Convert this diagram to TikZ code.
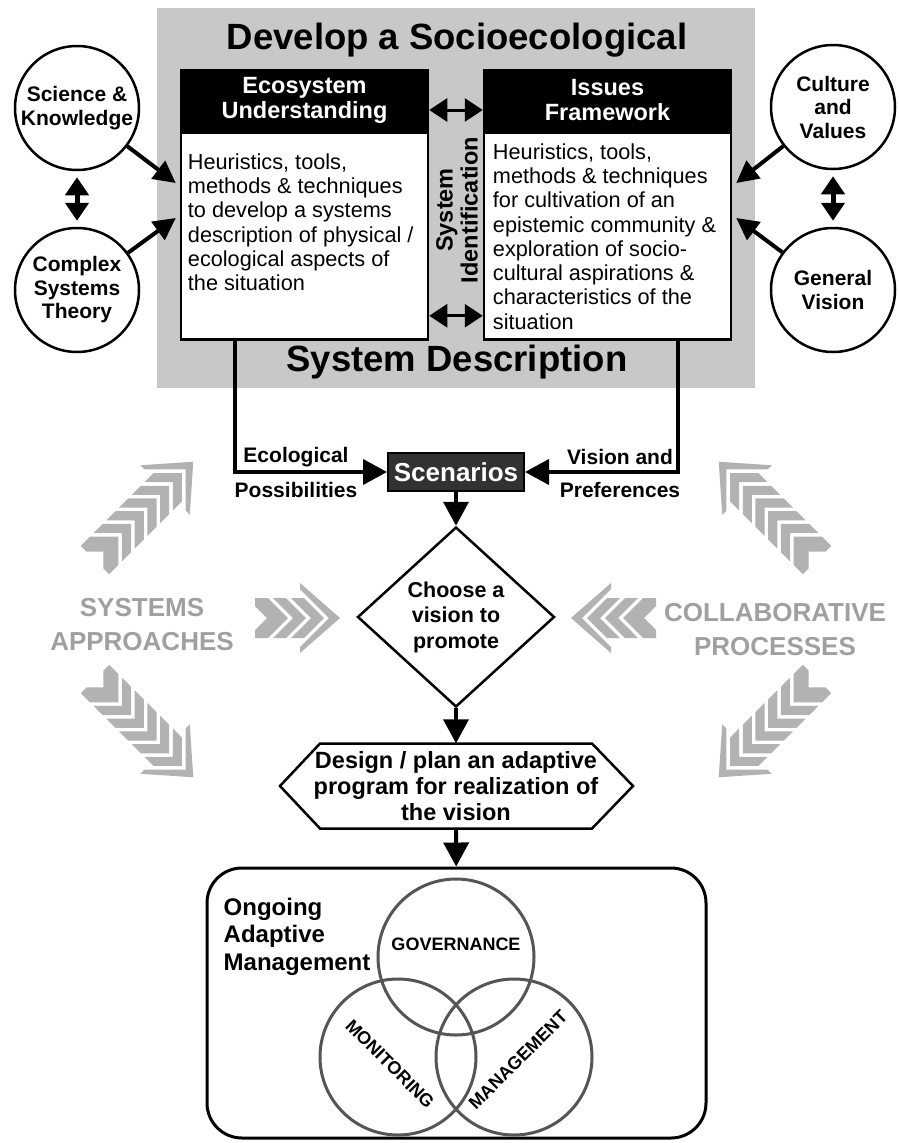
\documentclass[tikz,border=0pt]{standalone}
\usepackage{fontspec}
\setmainfont{Liberation Sans}
\usetikzlibrary{arrows.meta,shapes.geometric}

\definecolor{panelgray}{RGB}{200,200,200}
\definecolor{chevgray}{RGB}{178,178,178}
\definecolor{wordgray}{RGB}{160,160,160}
\definecolor{venngray}{RGB}{85,85,85}
\definecolor{scengray}{RGB}{50,50,50}

\newcommand{\fsz}[2]{\fontsize{#1}{#2}\selectfont}

\tikzset{
  srcircle/.style={circle, draw, line width=2.5pt, fill=white, minimum size=124pt,
    inner sep=0pt, align=center, font=\fsz{21}{23.5}\bfseries},
  headbox/.style={rectangle, draw, line width=2.5pt, fill=black, text=white,
    minimum width=247pt, minimum height=60pt, align=center, font=\fsz{23.5}{25}\bfseries},
  bodybox/.style={rectangle, draw, line width=2.5pt, fill=white,
    minimum width=247pt, minimum height=207pt},
  bodytext/.style={anchor=north west, inner sep=0pt, align=left, font=\fsz{21.7}{24.3}},
  flowarrow/.style={line width=4pt, -{Triangle[length=24pt,width=25pt]}},
  feedarrow/.style={line width=4pt, -{Triangle[length=22pt,width=22pt]}},
  twowayarrow/.style={line width=3pt,
    {Triangle[length=18pt,width=23pt]}-{Triangle[length=18pt,width=23pt]}},
  sidelabel/.style={font=\fsz{21}{24}\bfseries, inner sep=0pt},
  venncircle/.style={circle, draw=venngray, line width=3pt, minimum size=156pt, inner sep=0pt},
  vennlabel/.style={font=\fsz{18}{20}\bfseries, inner sep=0pt},
  graylabel/.style={text=wordgray, align=center, font=\fsz{26}{34}\bfseries},
  pics/chevarrow/.style={code={
    % first band, cut flat at the back
    \fill[chevgray] (0,-20) -- (13,-20) -- (33,0) -- (13,20) -- (0,20) -- (0,12) -- (12,0) -- (0,-12) -- cycle;
    \foreach \i in {2,...,#1} {
      \pgfmathsetmacro{\xo}{18*(\i-1)}
      \fill[chevgray] (\xo,-20) -- ++(13,0) -- ++(20,20) -- ++(-20,20) -- ++(-13,0) -- ++(20,-20) -- cycle;
    }
    % big head
    \pgfmathsetmacro{\xb}{18*#1-9}
    \fill[chevgray] (\xb,-35) -- ++(40,35) -- ++(-40,35) -- ++(0,-6) -- ++(29,-29) -- ++(-29,-29) -- cycle;
  }}
}

\begin{document}
\begin{tikzpicture}[x=1pt, y=-1pt]
  \useasboundingbox (0,0) rectangle (898,1143);
  % Shaded panel for the system description.
  \fill[panelgray] (157,8) rectangle (755,388);
  \node[font=\fsz{36.5}{40}\bfseries] (paneltop) at (457,40) {Develop a Socioecological};
  \node[font=\fsz{36.5}{40}\bfseries] (panelbottom) at (457,362) {System Description};

  % The two framework boxes.
  \node[headbox] (ecohead) at (304.5,100) {Ecosystem\\Understanding};
  \node[bodybox, anchor=north] (ecobody) at (ecohead.south) {};
  \node[bodytext] (ecotext) at ([xshift=8pt,yshift=-22pt]ecobody.north west)
    {Heuristics, tools,\\methods \& techniques\\to develop a systems\\description of physical /\\ecological aspects of\\the situation};
  \node[headbox] (isshead) at (607.5,100) {Issues\\Framework};
  \node[bodybox, anchor=north] (issbody) at (isshead.south) {};
  \node[bodytext] (isstext) at ([xshift=10pt,yshift=-12pt]issbody.north west)
    {Heuristics, tools,\\methods \& techniques\\for cultivation of an\\epistemic community \&\\exploration of socio-\\cultural aspirations \&\\characteristics of the\\situation};
  \node[rotate=90, align=center, font=\fsz{23.5}{25}\bfseries] (sysid) at (457,210) {System\\Identification};
  \draw[twowayarrow] ([yshift=-10pt]ecohead.east) -- ([yshift=-10pt]isshead.west);
  \draw[twowayarrow] ([yshift=25pt]ecobody.south east) -- ([yshift=25pt]issbody.south west);

  % Sources feeding the boxes.
  \node[srcircle] (science) at (77,108) {Science \&\\Knowledge};
  \node[srcircle] (complex) at (77,290) {Complex\\Systems\\Theory};
  \node[srcircle] (culture) at (833,107) {Culture\\and\\Values};
  \node[srcircle] (vision) at (833,290) {General\\Vision};
  \draw[twowayarrow, line width=5pt, shorten <=6pt, shorten >=6pt] (science) -- (complex);
  \draw[twowayarrow, line width=5pt, shorten <=6pt, shorten >=6pt] (culture) -- (vision);
  \coordinate (ecoinA) at ([xshift=-4pt,yshift=53pt]ecobody.west);
  \coordinate (ecoinB) at ([xshift=-4pt,yshift=18pt]ecobody.west);
  \coordinate (issinA) at ([xshift=4pt,yshift=53pt]issbody.east);
  \coordinate (issinB) at ([xshift=4pt,yshift=18pt]issbody.east);
  \draw[feedarrow] (science) -- (ecoinA);
  \draw[feedarrow] (complex) -- (ecoinB);
  \draw[feedarrow] (culture) -- (issinA);
  \draw[feedarrow] (vision) -- (issinB);

  % Scenarios and the decision chain.
  \node[fill=scengray, draw, line width=2pt, text=white, font=\fsz{26}{28}\bfseries,
    minimum width=136pt, minimum height=38pt, inner sep=2pt] (scen) at (456,472) {Scenarios};
  \draw[flowarrow] ([xshift=-70pt]ecobody.south) |- (scen.west);
  \draw[flowarrow] ([xshift=70pt]issbody.south) |- (scen.east);
  \node[sidelabel] (ecolab) at (296,457) {Ecological};
  \node[sidelabel] (posslab) at (296,490) {Possibilities};
  \node[sidelabel] (vislab) at (620,457) {Vision and};
  \node[sidelabel] (preflab) at (620,490) {Preferences};

  \node[diamond, draw, line width=2.5pt, fill=white, minimum width=197pt, minimum height=180pt,
    inner sep=0pt, align=center, font=\fsz{21.5}{25.5}\bfseries] (choose) at (456,617)
    {Choose a\\vision to\\promote};
  \node[minimum height=85pt, inner sep=0pt, align=center, font=\fsz{23.5}{26}\bfseries]
    (design) at (456,786) {Design / plan an adaptive\\program for realization of\\the vision};
  \draw[line width=2.5pt] ([shift={(-136,-42.5)}]design.center) -- ([shift={(136,-42.5)}]design.center)
    -- ([shift={(177,0)}]design.center) -- ([shift={(136,42.5)}]design.center)
    -- ([shift={(-136,42.5)}]design.center) -- ([shift={(-176,0)}]design.center) -- cycle;
  \draw[flowarrow] (scen) -- (choose);
  \draw[flowarrow] (choose) -- (design);

  % Ongoing adaptive management.
  \node[draw, line width=3pt, rounded corners=35pt, minimum width=499pt, minimum height=270pt]
    (ongoing) at (456.5,1003) {};
  \draw[flowarrow] (design) -- (ongoing);
  \node[anchor=north west, align=left, inner sep=0pt, font=\fsz{24}{27.5}\bfseries] (oamlabel)
    at ([xshift=18pt,yshift=-31pt]ongoing.north west) {Ongoing\\Adaptive\\Management};
  \node[venncircle] (govern) at (456,957) {};
  \node[venncircle] (monitor) at (398,1057) {};
  \node[venncircle] (manage) at (514,1057) {};
  \node[vennlabel] (governtxt) at (456,944) {GOVERNANCE};
  \node[vennlabel, rotate=-45] (monitortxt) at (390,1064) {MONITORING};
  \node[vennlabel, rotate=45] (managetxt) at (518,1060) {MANAGEMENT};

  % Gray chevron arrows and their captions.
  \node[graylabel] (sysapp) at (142,625) {SYSTEMS\\APPROACHES};
  \node[graylabel] (collab) at (775,630) {COLLABORATIVE\\PROCESSES};
  \pic[rotate=45] at (95,560) {chevarrow=6};
  \pic[rotate=-45] at (95,679) {chevarrow=6};
  \pic at (255,618) {chevarrow=3};
  \pic[rotate=135] at (817,560) {chevarrow=6};
  \pic[rotate=-135] at (817,679) {chevarrow=6};
  \pic[rotate=180] at (656,618) {chevarrow=3};
\end{tikzpicture}
\end{document}
